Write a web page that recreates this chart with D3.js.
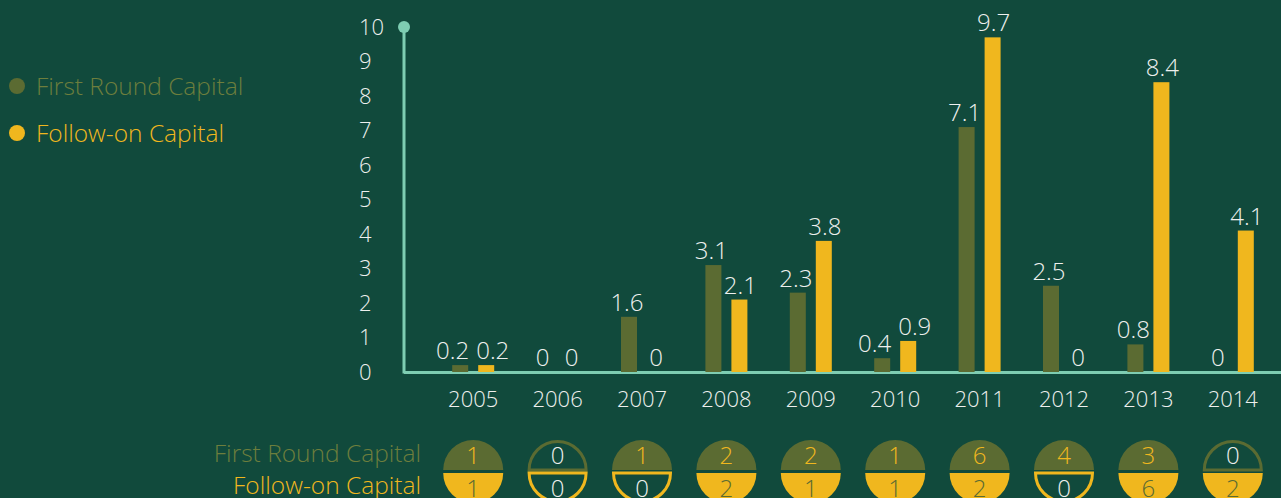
<!DOCTYPE html>
<html>
<head>
<meta charset="utf-8">
<script src="https://cdn.jsdelivr.net/npm/d3@7"></script>
<style>
  body { margin: 0; background: #114a3c; overflow: hidden; }
  text { font-family: "Open Sans", "Lato", sans-serif; font-weight: 300; }
</style>
</head>
<body>
<script>
var width = 1281,
    height = 498;

// data
var years = ["2005", "2006", "2007", "2008", "2009", "2010", "2011", "2012", "2013", "2014"];
var firstRound = [0.2, 0, 1.6, 3.1, 2.3, 0.4, 7.1, 2.5, 0.8, 0];
var followOn = [0.2, 0, 0, 2.1, 3.8, 0.9, 9.7, 0, 8.4, 4.1];
var firstCount = [1, 0, 1, 2, 2, 1, 6, 4, 3, 0];
var followCount = [1, 0, 0, 2, 1, 1, 2, 0, 6, 2];
var yTicks = [0, 1, 2, 3, 4, 5, 6, 7, 8, 9, 10];
var keys = ["first", "follow"];

var olive = "#5b6b32",
    oliveText = "#6d7e3d",
    yellow = "#f0b71e",
    mint = "#7ecdb2",
    white = "#eef0ee";

var svg = d3.select("body").append("svg").attr("width", width).attr("height", height);

var x = d3.scaleBand().domain(years).range([431, 1275]);
var x1 = d3.scaleBand().domain(keys)
    .range([x.bandwidth() / 2 - 21, x.bandwidth() / 2 + 21])
    .paddingInner(10 / 26);
var y = d3.scaleLinear().domain([0, 10]).range([372, 27]);

var rows = years.map(function(yr, i) {
  return { year: yr, first: firstRound[i], follow: followOn[i], fc: firstCount[i], oc: followCount[i] };
});

// y axis labels
svg.append("g").selectAll("text")
    .data(yTicks)
  .enter().append("text")
    .attr("x", 359)
    .attr("y", function(d) { return y(d); })
    .attr("dy", "0.36em")
    .attr("fill", white)
    .style("font-size", "22px")
    .text(function(d) { return d; });

// axis lines
svg.append("line")
    .attr("x1", 404).attr("x2", 404)
    .attr("y1", y(10)).attr("y2", y(0) + 1.5)
    .attr("stroke", mint).attr("stroke-width", 3);
svg.append("line")
    .attr("x1", 404).attr("x2", width)
    .attr("y1", y(0) + 0.5).attr("y2", y(0) + 0.5)
    .attr("stroke", mint).attr("stroke-width", 3);
svg.append("circle")
    .attr("cx", 404).attr("cy", y(10)).attr("r", 6)
    .attr("fill", mint);

// bars
var groups = svg.append("g").selectAll("g")
    .data(rows)
  .enter().append("g")
    .attr("transform", function(d) { return "translate(" + x(d.year) + ",0)"; });

function pairs(d) {
  // labels of both bars sit at about the same height -> push them apart
  var clash = Math.abs(y(d.first) - y(d.follow)) < 18 &&
      String(d.first).length > 1 && String(d.follow).length > 1;
  return keys.map(function(k) { return { key: k, value: d[k], clash: clash }; });
}

groups.selectAll("rect")
    .data(pairs)
  .enter().append("rect")
    .attr("x", function(d) { return x1(d.key); })
    .attr("width", x1.bandwidth())
    .attr("y", function(d) { return y(d.value); })
    .attr("height", function(d) { return y(0) - y(d.value); })
    .attr("fill", function(d) { return d.key == "first" ? olive : yellow; });

groups.selectAll(".val")
    .data(pairs)
  .enter().append("text")
    .attr("class", "val")
    .attr("x", function(d) {
      if (d.clash) return d.key == "first" ? x1(d.key) + x1.bandwidth() + 1 : x1(d.key) - 2;
      return x1(d.key) + x1.bandwidth() / 2 + (d.key == "first" ? -2 : 1);
    })
    .attr("y", function(d) { return y(d.value) - 6; })
    .attr("text-anchor", function(d) {
      if (d.clash) return d.key == "first" ? "end" : "start";
      return "middle";
    })
    .attr("fill", white)
    .style("font-size", "24px")
    .text(function(d) { return d.value; });

// year labels
groups.append("text")
    .attr("x", x.bandwidth() / 2)
    .attr("y", 407)
    .attr("text-anchor", "middle")
    .attr("fill", white)
    .style("font-size", "22px")
    .text(function(d) { return d.year; });

// top legend
var legend = [
  { label: "First Round Capital", color: olive, text: oliveText, cy: 86 },
  { label: "Follow-on Capital", color: yellow, text: yellow, cy: 133 }
];
var lg = svg.append("g").selectAll("g")
    .data(legend)
  .enter().append("g");
lg.append("circle")
    .attr("cx", 17).attr("cy", function(d) { return d.cy; }).attr("r", 8)
    .attr("fill", function(d) { return d.color; });
lg.append("text")
    .attr("x", 36).attr("y", function(d) { return d.cy + 9; })
    .attr("fill", function(d) { return d.text; })
    .style("font-size", "24.5px")
    .text(function(d) { return d.label; });

// bottom row labels
svg.append("text")
    .attr("x", 421).attr("y", 462)
    .attr("text-anchor", "end")
    .attr("fill", oliveText)
    .style("font-size", "24.5px")
    .text("First Round Capital");
svg.append("text")
    .attr("x", 421).attr("y", 494)
    .attr("text-anchor", "end")
    .attr("fill", yellow)
    .style("font-size", "24.5px")
    .text("Follow-on Capital");

// count half circles
var r = 30;
var topArc = d3.arc().innerRadius(0).outerRadius(r).startAngle(-Math.PI / 2).endAngle(Math.PI / 2);
var botArc = d3.arc().innerRadius(0).outerRadius(r).startAngle(Math.PI / 2).endAngle(Math.PI * 1.5);
var emptyTop = d3.arc().innerRadius(0).outerRadius(r - 1.5).startAngle(-Math.PI / 2).endAngle(Math.PI / 2);
var emptyBot = d3.arc().innerRadius(0).outerRadius(r - 1.5).startAngle(Math.PI / 2).endAngle(Math.PI * 1.5);

var counts = svg.append("g").selectAll("g")
    .data(rows)
  .enter().append("g")
    .attr("transform", function(d) { return "translate(" + (x(d.year) + x.bandwidth() / 2) + ",0)"; });

counts.append("path")
    .attr("transform", "translate(0,470)")
    .attr("d", function(d) { return d.fc > 0 ? topArc() : emptyTop(); })
    .attr("fill", function(d) { return d.fc > 0 ? olive : "none"; })
    .attr("stroke", function(d) { return d.fc > 0 ? "none" : olive; })
    .attr("stroke-width", 3);
counts.append("path")
    .attr("transform", "translate(0,473)")
    .attr("d", function(d) { return d.oc > 0 ? botArc() : emptyBot(); })
    .attr("fill", function(d) { return d.oc > 0 ? yellow : "none"; })
    .attr("stroke", function(d) { return d.oc > 0 ? "none" : yellow; })
    .attr("stroke-width", 3);

counts.append("text")
    .attr("y", 464)
    .attr("text-anchor", "middle")
    .attr("fill", function(d) { return d.fc > 0 ? yellow : white; })
    .style("font-size", "24px")
    .text(function(d) { return d.fc; });
counts.append("text")
    .attr("y", 497)
    .attr("text-anchor", "middle")
    .attr("fill", function(d) { return d.oc > 0 ? olive : white; })
    .style("font-size", "24px")
    .text(function(d) { return d.oc; });
</script>
</body>
</html>
